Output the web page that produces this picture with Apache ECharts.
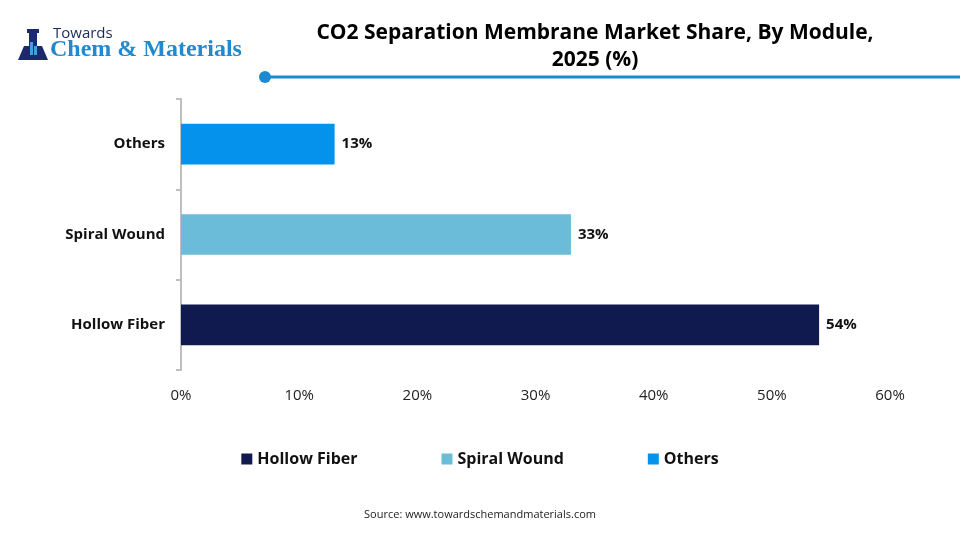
<!DOCTYPE html>
<html>
<head>
<meta charset="utf-8">
<script src="https://cdn.jsdelivr.net/npm/echarts@6/dist/echarts.min.js"></script>
<style>
  html, body { margin: 0; padding: 0; background: #fff; }
  #chart { width: 960px; height: 540px; }
</style>
</head>
<body>
<div id="chart"></div>
<script>
// categories bottom -> top
var categories = ['Hollow Fiber', 'Spiral Wound', 'Others'];
var shares = [54, 33, 13];
var colors = ['#111a4f', '#6abcd9', '#0592ec'];
var xTicks = [0, 10, 20, 30, 40, 50, 60];

var chart = echarts.init(document.getElementById('chart'));

// one series per module so the legend shows each colour
var series = categories.map(function (name, i) {
    var data = categories.map(function (c, j) { return j === i ? shares[i] : '-'; });
    return {
        name: name,
        type: 'bar',
        stack: 'all',
        barWidth: '45%',
        data: data,
        itemStyle: { color: colors[i] },
        label: {
            show: true,
            position: 'right',
            distance: 7,
            formatter: '{c}%',
            color: '#111',
            fontWeight: 'bold',
            fontSize: 15,
            fontFamily: 'Open Sans'
        }
    };
});

var option = {
    backgroundColor: '#fff',
    animation: false,
    title: {
        text: 'CO2 Separation Membrane Market Share, By Module,\n2025 (%)',
        left: 590,
        textAlign: 'center',
        top: 15,
        textStyle: {
            fontFamily: 'Open Sans',
            fontWeight: 'bold',
            fontSize: 21,
            lineHeight: 27,
            color: '#000'
        }
    },
    legend: {
        data: categories,
        bottom: 68,
        left: 'center',
        itemWidth: 11,
        itemHeight: 11,
        itemGap: 84,
        icon: 'rect',
        textStyle: {
            fontFamily: 'Open Sans',
            fontWeight: 'bold',
            fontSize: 16,
            color: '#111'
        }
    },
    grid: {
        left: 181,
        right: 70,
        top: 99,
        bottom: 170
    },
    xAxis: {
        type: 'value',
        min: xTicks[0],
        max: xTicks[xTicks.length - 1],
        interval: 10,
        axisLine: { show: false },
        axisTick: { show: false },
        splitLine: { show: false },
        axisLabel: {
            formatter: '{value}%',
            margin: 18,
            fontFamily: 'Open Sans',
            fontSize: 15,
            color: '#222'
        }
    },
    yAxis: {
        type: 'category',
        data: categories,
        axisLine: { lineStyle: { color: '#bfbfbf', width: 2 } },
        axisTick: { show: true, length: 5, lineStyle: { color: '#bfbfbf', width: 2 } },
        axisLabel: {
            margin: 16,
            fontFamily: 'Open Sans',
            fontWeight: 'bold',
            fontSize: 15,
            color: '#111'
        }
    },
    series: series,
    graphic: [
        // title rule
        { type: 'line', shape: { x1: 265, y1: 77, x2: 960, y2: 77 }, style: { stroke: '#1b8ad0', lineWidth: 3 } },
        { type: 'circle', shape: { cx: 265, cy: 77, r: 6 }, style: { fill: '#1b8ad0' } },
        // logo
        { type: 'polygon', shape: { points: [[24, 46], [42, 46], [48, 60], [18, 60]] }, style: { fill: '#1a2a6c' } },
        { type: 'rect', shape: { x: 29, y: 32, width: 8, height: 15 }, style: { fill: '#1a2a6c' } },
        { type: 'rect', shape: { x: 27, y: 29, width: 12, height: 4 }, style: { fill: '#1a2a6c' } },
        { type: 'rect', shape: { x: 30, y: 42, width: 3, height: 13 }, style: { fill: '#3ea0e0' } },
        { type: 'rect', shape: { x: 34, y: 46, width: 3, height: 9 }, style: { fill: '#3ea0e0' } },
        { type: 'text', left: 53, top: 26, style: { text: 'Towards', font: '15px "Open Sans"', fill: '#1a2a5c' } },
        { type: 'text', left: 50, top: 38, style: { text: 'Chem & Materials', font: 'bold 24px "Liberation Serif"', fill: '#2289cc' } },
        // source
        { type: 'text', left: 'center', top: 509, style: { text: 'Source: www.towardschemandmaterials.com', font: '11px "Open Sans"', fill: '#222' } }
    ]
};

chart.setOption(option);
</script>
</body>
</html>
